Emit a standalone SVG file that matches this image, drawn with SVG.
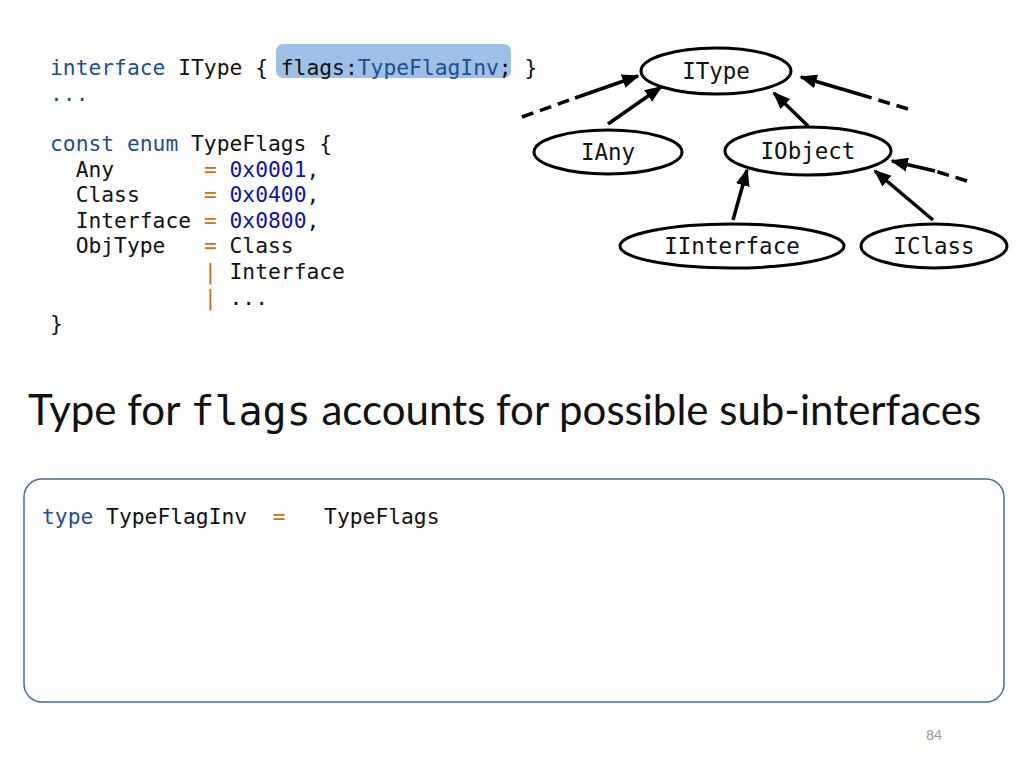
<svg xmlns="http://www.w3.org/2000/svg" width="1024" height="768" viewBox="0 0 1024 768">
<defs>
<marker id="ah" viewBox="0 0 10 10" refX="9" refY="5" markerWidth="5" markerHeight="5" orient="auto" markerUnits="strokeWidth"><path d="M0,1 L10,5 L0,9 z" fill="#000"/></marker>
<style>
.code{font-family:"DejaVu Sans Mono",monospace;font-size:21.3px;fill:#111;white-space:pre}
.kw{fill:#1f4e8c}.num{fill:#1010b0}.op{fill:#d07010}
.node ellipse{fill:#fff;stroke:#000;stroke-width:3}
.node text{font-family:"DejaVu Sans Mono",monospace;font-size:22.5px;fill:#111;text-anchor:middle}
.e{stroke:#000;stroke-width:3.5;fill:none}
.d{stroke:#000;stroke-width:3.5;fill:none;stroke-dasharray:12 7}
</style>
</defs>
<rect width="1024" height="768" fill="#fff"/>
<rect x="276" y="44" width="235" height="34" rx="7" fill="#9cc0e6"/>
<g class="code">
<text x="50" y="75" xml:space="preserve"><tspan class="kw">interface</tspan> IType { flags:<tspan class="kw">TypeFlagInv</tspan>; }</text>
<text x="50" y="101" class="kw">...</text>
<text x="50" y="151" xml:space="preserve"><tspan class="kw">const enum</tspan> TypeFlags {</text>
<text x="50" y="177" xml:space="preserve">  Any       <tspan class="op">=</tspan> <tspan class="num">0x0001</tspan>,</text>
<text x="50" y="202" xml:space="preserve">  Class     <tspan class="op">=</tspan> <tspan class="num">0x0400</tspan>,</text>
<text x="50" y="228" xml:space="preserve">  Interface <tspan class="op">=</tspan> <tspan class="num">0x0800</tspan>,</text>
<text x="50" y="253" xml:space="preserve">  ObjType   <tspan class="op">=</tspan> Class</text>
<text x="50" y="279" xml:space="preserve">            <tspan class="op">|</tspan> Interface</text>
<text x="50" y="305" xml:space="preserve">            <tspan class="op">|</tspan> ...</text>
<text x="50" y="331">}</text>
</g>
<g id="connectors">
<line class="d" x1="522" y1="117" x2="575" y2="98"/>
<line class="e" x1="575" y1="98" x2="638" y2="76" marker-end="url(#ah)"/>
<line class="e" x1="608" y1="124" x2="661" y2="87" marker-end="url(#ah)"/>
<line class="e" x1="808" y1="126" x2="774" y2="93" marker-end="url(#ah)"/>
<line class="d" x1="908" y1="109" x2="862" y2="95"/>
<line class="e" x1="862" y1="95" x2="801" y2="77" marker-end="url(#ah)"/>
<line class="e" x1="733" y1="220" x2="747" y2="170" marker-end="url(#ah)"/>
<line class="e" x1="933" y1="220" x2="875" y2="171" marker-end="url(#ah)"/>
<line class="d" x1="967" y1="181" x2="935" y2="171"/>
<line class="e" x1="935" y1="171" x2="892" y2="161" marker-end="url(#ah)"/>
</g>
<g id="IType" class="node"><ellipse cx="716" cy="71" rx="75" ry="23"/><text x="716" y="79">IType</text></g>
<g id="IAny" class="node"><ellipse cx="608" cy="152" rx="74" ry="22"/><text x="608" y="160">IAny</text></g>
<g id="IObject" class="node"><ellipse cx="808" cy="151" rx="83" ry="24"/><text x="808" y="159">IObject</text></g>
<g id="IInterface" class="node"><ellipse cx="732" cy="246" rx="112" ry="22"/><text x="732" y="254">IInterface</text></g>
<g id="IClass" class="node"><ellipse cx="934" cy="246" rx="73" ry="22"/><text x="934" y="254">IClass</text></g>
<text x="28" y="425" font-family="Lato, sans-serif" font-size="42" fill="#111" xml:space="preserve">Type for <tspan font-family="DejaVu Sans Mono, monospace" font-size="40">flags</tspan> accounts for possible sub-interfaces</text>
<rect x="24" y="479" width="980" height="223" rx="18" fill="#fff" stroke="#4a6a9a" stroke-width="1.5"/>
<text class="code" x="42" y="524" font-size="21.8" xml:space="preserve"><tspan class="kw">type</tspan> TypeFlagInv  <tspan class="op">=</tspan>   TypeFlags</text>
<text x="934" y="740" font-family="Lato, sans-serif" font-size="14" fill="#999" text-anchor="middle">84</text>
</svg>
